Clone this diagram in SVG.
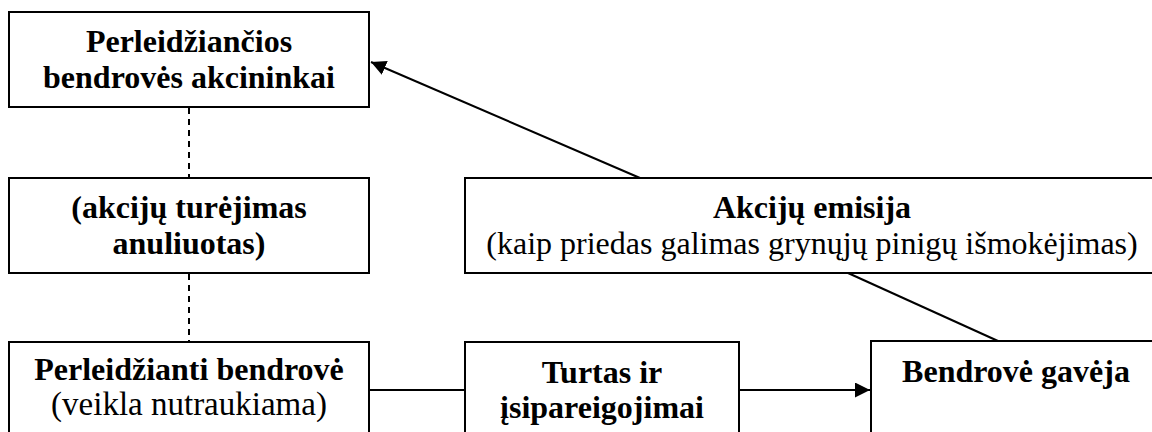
<svg xmlns="http://www.w3.org/2000/svg" width="1152" height="432" viewBox="0 0 1152 432">
  <style>
    .box { fill: #ffffff; stroke: #000000; stroke-width: 2; }
    .t { font-family: "Liberation Serif", "Times New Roman", serif; font-size: 32px; fill: #000000; text-anchor: middle; }
    .b { font-weight: bold; }
    .conn { stroke: #000000; stroke-width: 2; fill: none; }
    .dash { stroke-dasharray: 6 5; }
  </style>
  <defs>
    <marker id="arrow" viewBox="0 0 10 10" refX="10" refY="5" markerWidth="7.5" markerHeight="7.5" markerUnits="strokeWidth" orient="auto">
      <path d="M0,0 L10,5 L0,10 Z" fill="#000000"/>
    </marker>
  </defs>
  <rect width="1152" height="432" fill="#ffffff"/>

  <g id="connectors">
    <line class="conn dash" x1="189" y1="108" x2="189" y2="177"/>
    <line class="conn dash" x1="189" y1="274" x2="189" y2="341"/>
    <line class="conn" x1="369" y1="390" x2="465" y2="390"/>
    <line class="conn" x1="739" y1="390" x2="870" y2="390" marker-end="url(#arrow)"/>
    <line class="conn" x1="848" y1="273" x2="998" y2="341"/>
    <line class="conn" x1="640" y1="178" x2="371" y2="62" marker-end="url(#arrow)"/>
  </g>

  <g id="node-akcininkai">
    <rect class="box" x="9" y="12" width="360" height="95"/>
    <text class="t b" x="189" y="52">Perleidžiančios</text>
    <text class="t b" x="189" y="88">bendrovės akcininkai</text>
  </g>

  <g id="node-anuliuotas">
    <rect class="box" x="9" y="178" width="360" height="95"/>
    <text class="t b" x="189" y="218">(akcijų turėjimas</text>
    <text class="t b" x="189" y="254">anuliuotas)</text>
  </g>

  <g id="node-perleidzianti">
    <rect class="box" x="9" y="342" width="360" height="120"/>
    <text class="t b" x="189" y="380">Perleidžianti bendrovė</text>
    <text class="t" x="189" y="415" style="font-size:33px">(veikla nutraukiama)</text>
  </g>

  <g id="node-turtas">
    <rect class="box" x="465" y="342" width="274" height="120"/>
    <text class="t b" x="602" y="383">Turtas ir</text>
    <text class="t b" x="602" y="418">įsipareigojimai</text>
  </g>

  <g id="node-emisija">
    <rect class="box" x="465" y="178" width="694" height="95"/>
    <text class="t b" x="812" y="218">Akcijų emisija</text>
    <text class="t" x="812" y="254">(kaip priedas galimas grynųjų pinigų išmokėjimas)</text>
  </g>

  <g id="node-gaveja">
    <rect class="box" x="871" y="341" width="290" height="120"/>
    <text class="t b" x="1016" y="382">Bendrovė gavėja</text>
  </g>
</svg>
